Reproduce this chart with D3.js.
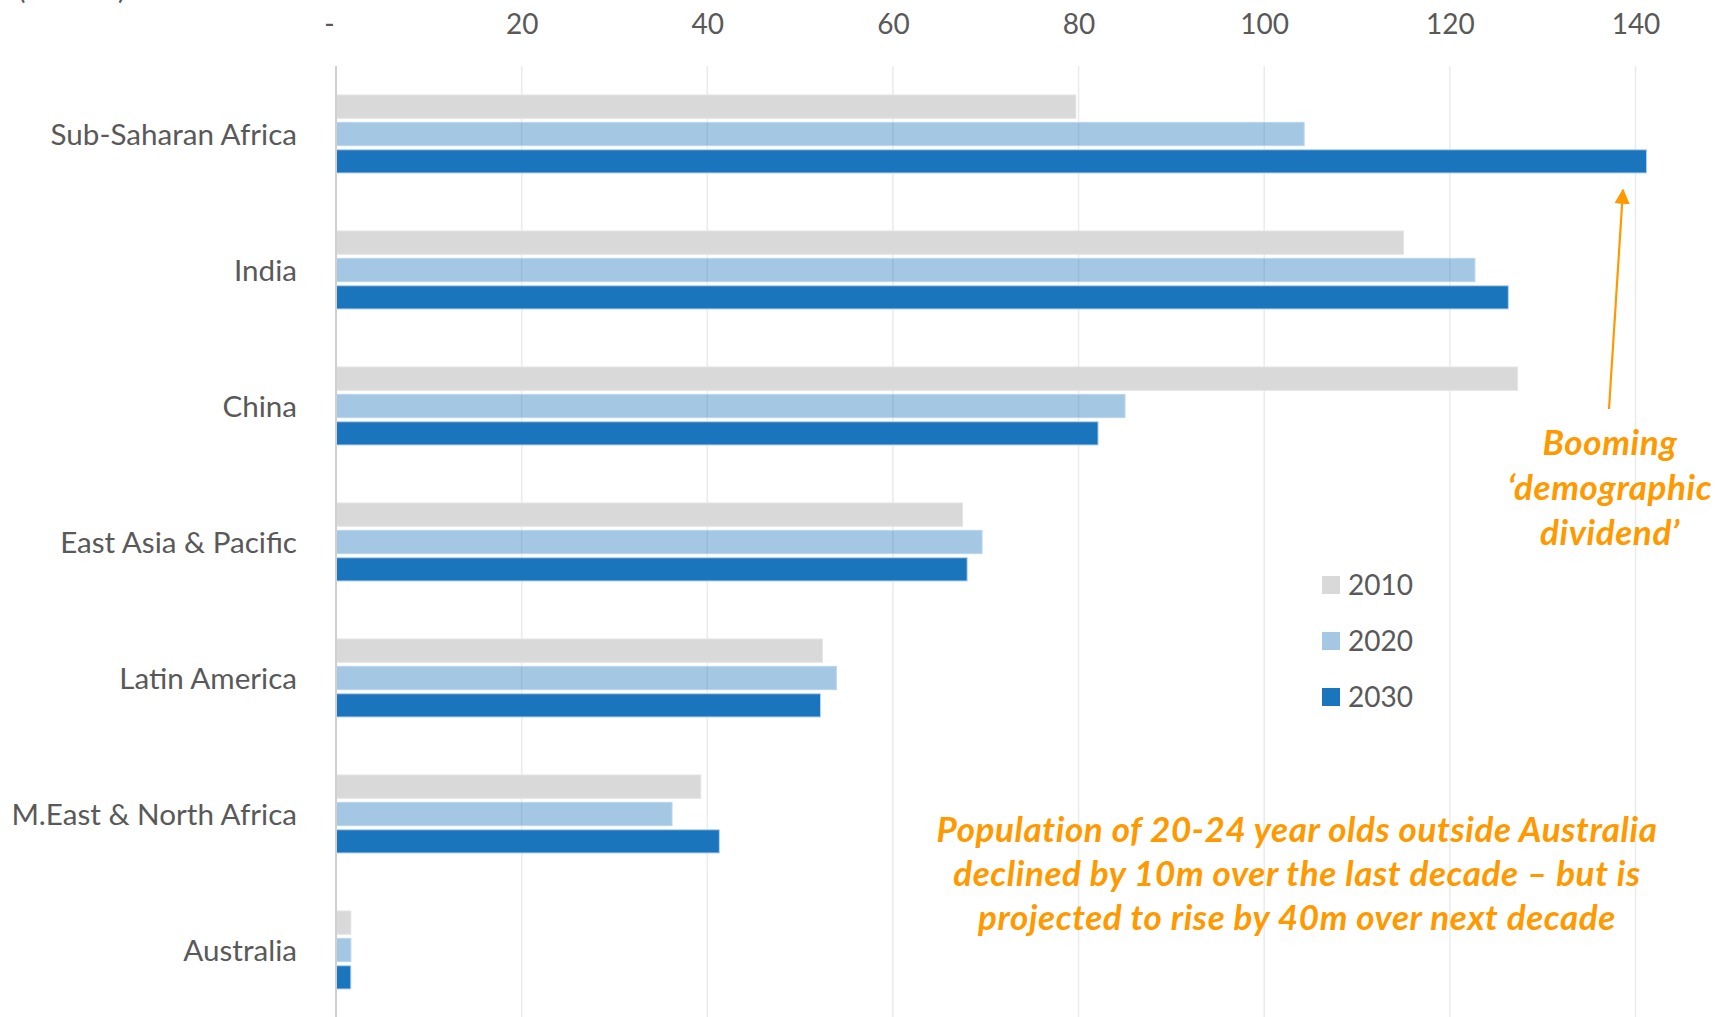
<!DOCTYPE html>
<html>
<head>
<meta charset="utf-8">
<script src="https://d3js.org/d3.v7.min.js"></script>
<style>
  body { margin: 0; background: #fff; }
  text { font-family: Lato, "Open Sans", sans-serif; }
</style>
</head>
<body>
<div id="chart"></div>
<script>
// 20-24 year olds by region (millions)
const regions = ["Sub-Saharan Africa", "India", "China", "East Asia & Pacific",
                 "Latin America", "M.East & North Africa", "Australia"];
const years = ["2010", "2020", "2030"];
const pop2010 = [79.7, 115.0, 127.3, 67.5, 52.4, 39.3, 1.6];
const pop2020 = [104.3, 122.7, 85.0, 69.6, 53.9, 36.2, 1.6];
const pop2030 = [141.2, 126.3, 82.1, 68.0, 52.2, 41.3, 1.6];
const xTicks = [0, 20, 40, 60, 80, 100, 120, 140];

const W = 1720, H = 1017;
const svg = d3.select("#chart").append("svg")
    .attr("width", W).attr("height", H);

const x = d3.scaleLinear().domain([0, 140]).range([336, 1635.5]);
const y = d3.scaleBand().domain(regions).range([66, 1018]);
const yInner = d3.scaleBand().domain(years).range([29, 107]).paddingInner(0.15);

const fills = { "2010": "#d9d9d9", "2020": "#1b75bc", "2030": "#1b75bc" };
const opac  = { "2010": 1, "2020": 0.4, "2030": 1 };

// vertical gridlines
svg.append("g")
  .selectAll("line")
  .data(xTicks.slice(1))
  .join("line")
    .attr("x1", d => x(d)).attr("x2", d => x(d))
    .attr("y1", 66).attr("y2", H)
    .attr("stroke", "#ebebeb").attr("stroke-width", 1.5);

// top tick labels
const xAxis = d3.axisTop(x).tickValues(xTicks).tickSize(0)
    .tickFormat(d => d === 0 ? "-" : d);
const gx = svg.append("g").attr("transform", "translate(0,27)").call(xAxis);
gx.select(".domain").remove();
gx.selectAll("text")
    .attr("font-size", 28).attr("fill", "#595959")
    .attr("font-family", "Lato, sans-serif")
    .attr("dy", "0.36em")
    .attr("dx", d => d === 0 ? -7 : 0);

// unit label, mostly off the top edge
svg.append("text")
    .attr("x", 18).attr("y", -1)
    .attr("font-size", 28).attr("fill", "#595959")
    .text("(millions)");

// bars
const rows = regions.map((r, i) => ({
  region: r,
  values: [pop2010[i], pop2020[i], pop2030[i]].map((v, j) => ({ year: years[j], v }))
}));

const groups = svg.append("g").selectAll("g")
  .data(rows)
  .join("g")
    .attr("transform", d => `translate(0,${y(d.region)})`);

groups.selectAll("rect")
  .data(d => d.values)
  .join("rect")
    .attr("x", x(0))
    .attr("y", d => yInner(d.year))
    .attr("width", d => x(d.v) - x(0))
    .attr("height", yInner.bandwidth())
    .attr("fill", d => fills[d.year])
    .attr("fill-opacity", d => opac[d.year])
    .attr("stroke", d => d.year === "2010" ? "#e4e4e4" : "#b9d4ec")
    .attr("stroke-width", 1);

// vertical axis line
svg.append("line")
    .attr("x1", x(0)).attr("x2", x(0))
    .attr("y1", 66).attr("y2", H)
    .attr("stroke", "#d0d0d0").attr("stroke-width", 2);

// category labels
svg.append("g").selectAll("text")
  .data(regions)
  .join("text")
    .attr("x", 297)
    .attr("y", d => y(d) + 68)
    .attr("dy", "0.36em")
    .attr("text-anchor", "end")
    .attr("font-size", 29.6).attr("fill", "#595959")
    .text(d => d);

// legend
const legend = svg.append("g").selectAll("g")
  .data(years)
  .join("g")
    .attr("transform", (d, i) => `translate(1322,${576 + i * 56})`);
legend.append("rect")
    .attr("width", 18).attr("height", 18)
    .attr("fill", d => fills[d])
    .attr("fill-opacity", d => opac[d]);
legend.append("text")
    .attr("x", 26).attr("y", 9).attr("dy", "0.36em")
    .attr("font-size", 28).attr("fill", "#595959")
    .text(d => d);

// annotations
const orange = "#ff9900";
svg.append("defs").append("marker")
    .attr("id", "head")
    .attr("viewBox", "0 0 10 10")
    .attr("refX", 9).attr("refY", 5)
    .attr("markerWidth", 7).attr("markerHeight", 7)
    .attr("markerUnits", "strokeWidth")
    .attr("orient", "auto")
  .append("path")
    .attr("d", "M0,0 L10,5 L0,10 Z")
    .attr("fill", orange);

svg.append("line")
    .attr("x1", 1609).attr("y1", 409)
    .attr("x2", 1623).attr("y2", 190)
    .attr("stroke", orange).attr("stroke-width", 2.2)
    .attr("marker-end", "url(#head)");

const boomLines = ["Booming", "\u2018demographic", "dividend\u2019"];
svg.append("text")
    .attr("text-anchor", "middle")
    .attr("font-size", 35).attr("font-weight", "bold").attr("font-style", "italic")
    .attr("letter-spacing", 0.6)
    .attr("fill", orange)
  .selectAll("tspan")
  .data(boomLines)
  .join("tspan")
    .attr("x", 1610)
    .attr("y", (d, i) => 455 + i * 45)
    .text(d => d);

const noteLines = ["Population of 20-24 year olds outside Australia",
                   "declined by 10m over the last decade \u2013 but is",
                   "projected to rise by 40m over next decade"];
svg.append("text")
    .attr("text-anchor", "middle")
    .attr("font-size", 35).attr("font-weight", "bold").attr("font-style", "italic")
    .attr("letter-spacing", 0.6)
    .attr("fill", orange)
  .selectAll("tspan")
  .data(noteLines)
  .join("tspan")
    .attr("x", 1297)
    .attr("y", (d, i) => 842 + i * 44)
    .text(d => d);
</script>
</body>
</html>
